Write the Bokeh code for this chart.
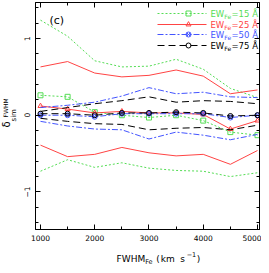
from bokeh.plotting import figure
from bokeh.layouts import row, column
from bokeh.models import LinearAxis, Label, Range1d, SingleIntervalTicker, CustomJSTickFormatter
from bokeh.core.properties import value
from bokeh.embed import file_html
from bokeh.resources import INLINE
import math

# ---- data ----
fwhm = [1000, 1500, 2000, 2500, 3000, 3500, 4000, 4500, 5000]

g_up = [1.24, 1.03, 0.71, 0.63, 0.64, 0.73, 0.60, 0.35, 0.23]
g_mid = [0.26, 0.24, 0.04, 0.00, -0.03, 0.00, -0.07, -0.22, -0.26]
g_lo = [-0.73, -0.58, -0.68, -0.62, -0.69, -0.72, -0.73, -0.80, -0.75]

r_up = [0.63, 0.70, 0.55, 0.50, 0.52, 0.59, 0.51, 0.28, 0.33]
r_mid = [0.12, 0.08, 0.03, 0.05, 0.03, 0.03, 0.01, -0.18, -0.07]
r_lo = [-0.39, -0.54, -0.51, -0.42, -0.49, -0.53, -0.51, -0.64, -0.46]

b_up = [0.10, 0.13, 0.17, 0.25, 0.36, 0.28, 0.30, 0.24, 0.23]
b_mid = [0.00, 0.00, -0.02, 0.02, 0.02, 0.02, 0.02, -0.03, 0.00]
b_lo = [-0.08, -0.14, -0.18, -0.19, -0.31, -0.22, -0.26, -0.32, -0.25]

k_up = [0.05, 0.10, 0.15, 0.19, 0.24, 0.17, 0.19, 0.18, 0.15]
k_mid = [0.02, 0.02, 0.00, 0.03, 0.03, 0.04, 0.03, -0.01, 0.00]
k_lo = [-0.04, -0.08, -0.11, -0.12, -0.19, -0.17, -0.16, -0.19, -0.13]

ew_values = ["15", "25", "50", "75"]

# ---- styles ----
FONT = "DejaVu Sans"
colors = ["#55dd55", "#ff4444", "#4455ff", "#000000"]
dashes = ["2 2", "solid", "6 2 2 2", "7 4"]
markers = ["square", "triangle", "circle_x", "circle"]
series = [(g_up, g_mid, g_lo), (r_up, r_mid, r_lo), (b_up, b_mid, b_lo), (k_up, k_mid, k_lo)]

# ---- layout (pixels of the whole 261 x 265 picture) ----
TOTAL_W, TOTAL_H = 261, 265
YLAB_W = 18                 # strip at the left holding the y-axis title
MAIN_H = 245                # main plot height; the x-axis title strip sits below
FL, FR, FT, FB = 35, 259, 2, 229   # frame edges in picture pixels

X0, X1, Y0, Y1 = 908, 5037, -1.49, 1.47
MAIN_W = TOTAL_W - YLAB_W

p = figure(width=MAIN_W, height=MAIN_H, output_backend="svg", toolbar_location=None,
           x_range=Range1d(X0, X1), y_range=Range1d(Y0, Y1),
           min_border_left=FL - YLAB_W, min_border_right=TOTAL_W - FR,
           min_border_top=FT, min_border_bottom=MAIN_H - FB)
p.grid.visible = False
p.outline_line_color = "black"
p.background_fill_color = "white"
p.border_fill_color = "white"

def px_x(px):
    return X0 + (px - FL) * (X1 - X0) / (FR - FL)
def px_y(py):
    return Y1 - (py - FT) * (Y1 - Y0) / (FB - FT)

xt = SingleIntervalTicker(interval=1000, num_minor_ticks=2)
yt = SingleIntervalTicker(interval=1, num_minor_ticks=5)

def style_axis(ax, labels=True):
    ax.axis_line_color = "black"
    ax.major_tick_line_color = "black"
    ax.minor_tick_line_color = "black"
    ax.major_tick_in = 5
    ax.major_tick_out = 0
    ax.minor_tick_in = 3
    ax.minor_tick_out = 0
    if labels:
        ax.major_label_text_font = FONT
        ax.major_label_text_font_size = "7.5px"
        ax.major_label_text_color = "black"
        ax.major_label_standoff = 5
    else:
        ax.formatter = CustomJSTickFormatter(code="return ''")
        ax.major_label_standoff = 0

p.xaxis.ticker = xt
p.yaxis.ticker = yt
style_axis(p.xaxis[0])
style_axis(p.yaxis[0])
p.yaxis.major_label_orientation = "vertical"

top = LinearAxis(ticker=xt)
style_axis(top, labels=False)
p.add_layout(top, "above")
right = LinearAxis(ticker=yt)
style_axis(right, labels=False)
p.add_layout(right, "right")

# ---- curves ----
for (up, mid, lo), c, d, m in zip(series, colors, dashes, markers):
    for ys in (up, mid, lo):
        p.line(fwhm, ys, line_color=c, line_dash=d, line_width=1)
    p.scatter(fwhm, mid, marker=m, size=5, fill_color=None, line_color=c, line_width=1)

# ---- legend (manual, to allow the subscript) ----
LEG_X0, LEG_X1, LEG_XM, LEG_XT = px_x(157), px_x(206), px_x(188), px_x(210)
LEG_ROWS = [13, 24, 34, 45]
for rowy, ew, c, d, m in zip(LEG_ROWS, ew_values, colors, dashes, markers):
    y = px_y(rowy)
    p.line([LEG_X0, LEG_X1], [y, y], line_color=c, line_dash=d, line_width=1)
    p.scatter([LEG_XM], [y], marker=m, size=5, fill_color=None, line_color=c)
    p.add_layout(Label(x=LEG_XT, y=y, text="EW", text_font=FONT, text_font_size="8.5px",
                       text_color=c, text_baseline="middle"))
    p.add_layout(Label(x=LEG_XT, y=y, x_offset=13.8, y_offset=-2.5, text="Fe", text_font=FONT,
                       text_font_size="6px", text_color=c, text_baseline="middle"))
    p.add_layout(Label(x=LEG_XT, y=y, x_offset=21, text="=" + ew + " Å", text_font=FONT,
                       text_font_size="8.5px", text_color=c, text_baseline="middle"))

# panel tag
p.add_layout(Label(x=px_x(49), y=px_y(13), text="(c)", text_font=FONT, text_font_size="11px",
                   text_color="black", text_baseline="top"))

def strip(w, h):
    f = figure(width=w, height=h, output_backend="svg", toolbar_location=None,
               x_range=Range1d(0, w), y_range=Range1d(0, h), min_border=0,
               x_axis_location=None, y_axis_location=None)
    f.grid.visible = False
    f.outline_line_color = None
    f.background_fill_color = "white"
    f.border_fill_color = "white"
    return f

# ---- x axis title strip: FWHM_Fe (km s^-1) ----
XLAB_H = TOTAL_H - MAIN_H
xs = strip(MAIN_W, XLAB_H)
xl = [("FWHM", 106, 258, "9px"), ("Fe", 137, 261.5, "6.5px"), ("(", 149, 258, "9px"),
      ("km", 154, 258, "9px"), ("s", 175, 258, "9px"), ("−1", 182, 254, "6.5px"),
      (")", 193, 258, "9px")]
for t, x, y, fs in xl:
    xs.text(x=[x - YLAB_W], y=[TOTAL_H - y], text=[t], text_font=value(FONT),
            text_font_size=fs, text_color="black", text_baseline="alphabetic",
            text_align="left")

# ---- y axis title strip: delta_sim^FWHM (rotated) ----
ys_ = strip(YLAB_W, TOTAL_H)
yl = [("δ", 6, 127, "10px"), ("sim", 13.5, 121, "7px"), ("FWHM", 4.5, 117, "6px")]
for t, x, y, fs in yl:
    ys_.text(x=[x], y=[TOTAL_H - y], text=[t], text_font=value(FONT), text_font_size=fs,
             angle=math.pi / 2, text_color="black", text_align="left", text_baseline="middle")

layout = row(ys_, column(p, xs, spacing=0), spacing=0)
open("out.html", "w").write(file_html(layout, INLINE))
